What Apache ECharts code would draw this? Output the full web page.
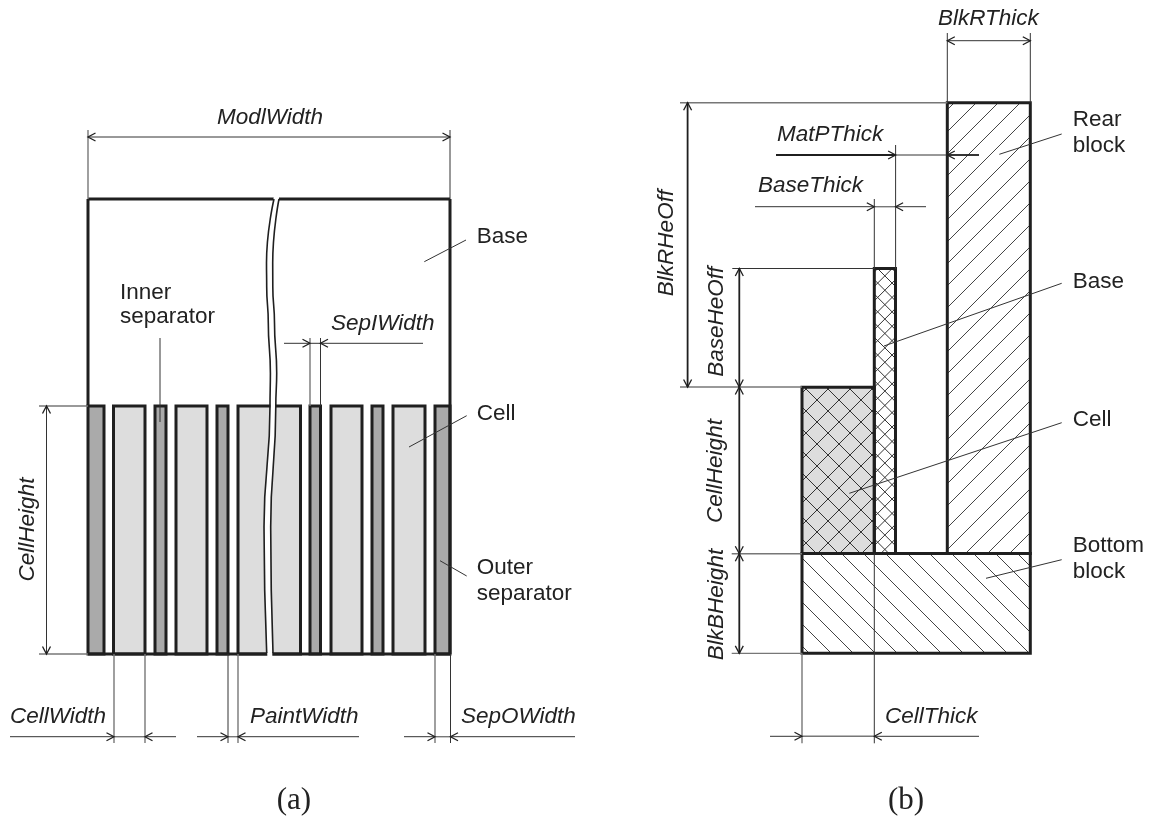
<!DOCTYPE html>
<html>
<head>
<meta charset="utf-8">
<style>html,body{margin:0;padding:0;background:#fff}#c{width:1155px;height:824px}</style>
<script src="https://cdn.jsdelivr.net/npm/echarts@6/dist/echarts.min.js"></script>
</head>
<body>
<div id="c"></div>
<script>
// ---- geometry (axis units = reference pixels) ----
const cellTop = 406, cellBottom = 654;
const outerSeparators = [[88, 104], [435, 450]];
const innerSeparators = [[155, 166], [217, 228], [310, 320.5], [372, 383]];
const cells = [[113.5, 145], [176, 207], [238, 300.5], [331, 362], [393, 425]];
const baseOutline = [[88,406,88,199],[88,199,274,199],[279,199,450,199],[450,199,450,654],[88,654,450,654]];
const breakY     = [199, 263, 287, 323, 373, 406, 527, 653];
const breakLeft  = [274, 266.5, 266.7, 268.3, 270.4, 270, 264, 266.7];
const breakRight = [279, 272.7, 272.8, 274.5, 276.7, 275.8, 270.7, 273];

const rearBlock = [947.3, 102.7, 1030.3, 553.6];
const bottomBlock = [802, 553.6, 1030.3, 653.3];
const cellSection = [802, 387.3, 874.3, 553.6];
const baseSection = [874.3, 268.6, 895.5, 553.6];

const leaders = [
  [160,338,160,422],[424.3,261.7,466,240],[409,447,466.7,415.7],[440,560.7,466.7,576],
  [999.3,154.3,1061.7,134],[884,346,1061.7,283.3],[849.3,493.3,1061.7,422.7],[986,578.3,1061.7,559.7]
];
const darkDimLines = [
  [450,130,450,199],[284,343.3,310,343.3],[310,343.3,320.5,343.3],[320.5,343.3,423,343.3],[320.5,338,320.5,406],
  [46.5,406,46.5,654],[10,736.7,114,736.7],[145,736.7,176,736.7],[197,736.7,228,736.7],[238,736.7,359,736.7],
  [228,654,228,743],[404,736.7,435,736.7],[450.5,736.7,575,736.7],[450.5,654,450.5,743],
  [88,137,450,137],
  [947.3,40.7,1030.3,40.7],[1030.3,33,1030.3,102.7],[947.3,33,947.3,102.7],
  [895.6,145,895.6,269],[874.3,199,874.3,269],[895.6,155,947.3,155],
  [755,206.7,874.3,206.7],[895.6,206.7,926,206.7],[732.3,268.5,874.3,268.5],
  [770,736.3,802,736.3],[874.3,736.3,979,736.3],[874.3,553.6,874.3,743.3]
];
const grayDimLines = [
  [88,130,88,199],[310,338,310,406],[39,406,88,406],[39,654,88,654],
  [114,654,114,743],[145,654,145,743],[238,654,238,743],[435,654,435,743],
  [114,736.7,145,736.7],[228,736.7,238,736.7],[435,736.7,450.5,736.7],
  [680,102.7,947.3,102.7],[874.3,206.7,895.6,206.7],
  [680,387,802,387],[731.7,553.7,802,553.7],[731.7,653.4,802,653.4],
  [802,653.3,802,743.3],[802,736.3,874.3,736.3]
];
const heavyDimLines = [
  [687.6,102.7,687.6,387],[739.3,268.5,739.3,387],[739.3,387,739.3,553.7],[739.3,553.7,739.3,653.4],
  [776,155,895.6,155],[947.3,155,979,155]
];
// arrow tips: x, y, pointing direction x, pointing direction y
const arrowTips = [
  [88,137,-1,0],[450,137,1,0],[310,343.3,1,0],[320.5,343.3,-1,0],
  [46.5,406,0,-1],[46.5,654,0,1],[114,736.7,1,0],[145,736.7,-1,0],[228,736.7,1,0],[238,736.7,-1,0],
  [435,736.7,1,0],[450.5,736.7,-1,0],
  [947.3,40.7,-1,0],[1030.3,40.7,1,0],[895.6,155,1,0],[947.3,155,-1,0],[874.3,206.7,1,0],[895.6,206.7,-1,0],
  [802,736.3,1,0],[874.3,736.3,-1,0],
  [687.6,102.7,0,-1],[687.6,387,0,1],[739.3,268.5,0,-1],[739.3,387,0,1],[739.3,387,0,-1],
  [739.3,553.7,0,1],[739.3,553.7,0,-1],[739.3,653.4,0,1]
];
const italicLabels = [
  ['ModlWidth',217,126],['SepIWidth',331,332],['CellWidth',10,725],['PaintWidth',250,725],['SepOWidth',461,725],
  ['BlkRThick',938,26.7],['MatPThick',777,142.3],['BaseThick',758,194],['CellThick',885,725]
];
const italicRotatedLabels = [
  ['CellHeight',36,529.5],['BlkRHeOff',675,243],['BaseHeOff',725,321.7],['CellHeight',724,471],['BlkBHeight',724.3,604.5]
];
const plainLabels = [
  ['Inner',120,300.6],['separator',120,325],['Base',476.7,245],['Cell',476.7,421.7],['Outer',476.7,575.7],['separator',476.7,601.7],
  ['Rear',1072.7,128],['block',1072.7,153.3],['Base',1072.7,290],['Cell',1072.7,427.7],['Bottom',1072.7,553.3],['block',1072.7,579.3]
];
const captions = [['(a)',276.7,811.7],['(b)',888,811.7]];

// ---- helpers ----
const INK = '#1f1f1f', FONT = '"Liberation Sans",Arial,sans-serif', SIZE = 22.5;

function hatch(rect, sign, start, step) { // sign +1: x+y=c  sign -1: x-y=c
  const [x0, y0, x1, y1] = rect, out = [];
  const lo = sign > 0 ? x0 + y0 : x0 - y1, hi = sign > 0 ? x1 + y1 : x1 - y0;
  let c = start + Math.ceil((lo - start) / step) * step;
  for (; c <= hi; c += step) {
    const yAt = x => sign > 0 ? c - x : x - c;
    const xAt = y => sign > 0 ? c - y : c + y;
    const pts = [];
    [x0, x1].forEach(x => { const y = yAt(x); if (y >= y0 && y <= y1) pts.push([x, y]); });
    [y0, y1].forEach(y => { const x = xAt(y); if (x >= x0 && x <= x1) pts.push([x, y]); });
    if (pts.length >= 2) out.push([pts[0][0], pts[0][1], pts[1][0], pts[1][1]]);
  }
  return out;
}
function segments(name, data, color, width, z) {
  return { type:'custom', name, data, z, silent:true, clip:false, animation:false,
    encode:{x:[0,2], y:[1,3]},
    renderItem(p, api) {
      const a = api.coord([api.value(0), api.value(1)]), b = api.coord([api.value(2), api.value(3)]);
      return { type:'line', shape:{x1:a[0],y1:a[1],x2:b[0],y2:b[1]}, style:{stroke:color, lineWidth:width, fill:null} };
    } };
}
function boxes(name, data, fill, stroke, width, z) {
  return { type:'custom', name, data, z, silent:true, clip:false, animation:false,
    encode:{x:[0,2], y:[1,3]},
    renderItem(p, api) {
      const a = api.coord([api.value(0), api.value(1)]), b = api.coord([api.value(2), api.value(3)]);
      return { type:'rect', shape:{x:a[0],y:a[1],width:b[0]-a[0],height:b[1]-a[1]},
        style:{fill, stroke, lineWidth:width} };
    } };
}
function curve(name, xs, ys, color, width, z) {
  return { type:'line', name, data:xs.map((x,i)=>[x,ys[i]]), z, silent:true, smooth:0.5, smoothMonotone:'y',
    showSymbol:false, symbol:'none', clip:false, animation:false, lineStyle:{color, width, cap:'butt'} };
}
function chevrons(name, data, z) {
  return { type:'custom', name, data, z, silent:true, clip:false, animation:false,
    encode:{x:0, y:1},
    renderItem(p, api) {
      const t = api.coord([api.value(0), api.value(1)]), dx = api.value(2), dy = api.value(3);
      const L = 7.5, W = 4;
      return { type:'polyline', shape:{points:[
        [t[0]-dx*L-dy*W, t[1]-dy*L+dx*W], t, [t[0]-dx*L+dy*W, t[1]-dy*L-dx*W]]},
        style:{stroke:INK, lineWidth:1.3, fill:null} };
    } };
}
function labels(name, data, font, size, rotated, z) {
  return { type:'custom', name, data:data.map(d=>({value:[d[1],d[2]], label:d[0]})), z, silent:true, clip:false, animation:false,
    encode:{x:0, y:1},
    renderItem(p, api) {
      const c = api.coord([api.value(0), api.value(1)]), text = data[p.dataIndex][0], off = 0.355*size;
      return rotated
        ? { type:'text', x:c[0]-off, y:c[1], rotation:Math.PI/2,
            style:{text, font, fill:'#222', align:'center', verticalAlign:'middle'} }
        : { type:'text', x:c[0], y:c[1]-off,
            style:{text, font, fill:'#222', align:'left', verticalAlign:'middle'} };
    } };
}
const spanBox = s => [s[0], cellTop, s[1], cellBottom];
const breakMidX = breakLeft.map((x,i)=>(x+breakRight[i])/2);
const breakMidY = breakY.map((y,i)=> i===0 ? y-3 : i===breakY.length-1 ? y+4 : y);

const option = {
  backgroundColor:'#fff',
  animation:false,
  tooltip:{show:false},
  grid:{left:0,right:0,top:0,bottom:0},
  xAxis:{type:'value',min:0,max:1155,show:false},
  yAxis:{type:'value',min:0,max:824,inverse:true,show:false},
  series:[
    boxes('outer separators', outerSeparators.map(spanBox), '#aaaaaa', INK, 3, 2),
    boxes('inner separators', innerSeparators.map(spanBox), '#aaaaaa', INK, 3, 2),
    boxes('cells', cells.map(spanBox), '#dddddd', INK, 3, 2),
    segments('base outline', baseOutline, INK, 3, 3),
    curve('break gap', breakMidX, breakMidY, '#ffffff', 5, 5),
    curve('break left', breakLeft, breakY, INK, 1.6, 6),
    curve('break right', breakRight, breakY, INK, 1.6, 6),

    boxes('cell fill', [cellSection], '#dddddd', null, 0, 1),
    segments('rear hatch', hatch(rearBlock, 1, 1079, 22), '#444', 1, 2),
    segments('bottom hatch', hatch(bottomBlock, -1, 266, 22), '#444', 1, 2),
    segments('cell hatch a', hatch(cellSection, 1, 1217, 22), '#333', 1, 2),
    segments('cell hatch b', hatch(cellSection, -1, 417, 22), '#333', 1, 2),
    segments('base hatch a', hatch(baseSection, 1, 1160.7, 14.4), '#333', 1, 2),
    segments('base hatch b', hatch(baseSection, -1, 609, 14.4), '#333', 1, 2),
    boxes('section outlines', [rearBlock, bottomBlock, cellSection, baseSection], 'transparent', INK, 3, 3),

    segments('leaders', leaders, '#333', 1, 4),
    segments('dimension lines', darkDimLines, '#333', 1, 4),
    segments('gray dimension lines', grayDimLines, '#777', 1.4, 4),
    segments('heavy dimension lines', heavyDimLines, INK, 1.8, 4),
    chevrons('arrows', arrowTips, 4),

    labels('italic labels', italicLabels, 'italic '+SIZE+'px '+FONT, SIZE, false, 7),
    labels('rotated labels', italicRotatedLabels, 'italic '+SIZE+'px '+FONT, SIZE, true, 7),
    labels('plain labels', plainLabels, SIZE+'px '+FONT, SIZE, false, 7),
    labels('captions', captions, '31px "Liberation Serif","Times New Roman",serif', 31, false, 7)
  ]
};
echarts.init(document.getElementById('c')).setOption(option);
</script>
</body>
</html>
